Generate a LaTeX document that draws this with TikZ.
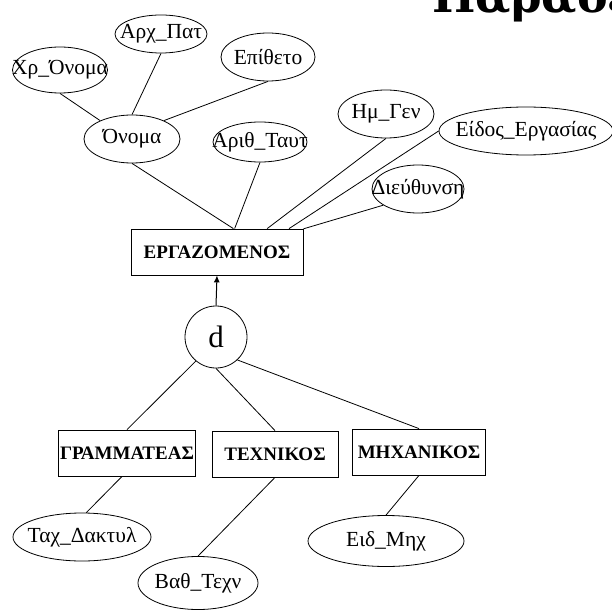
\documentclass[tikz,border=0pt]{standalone}
\usepackage{fontspec}
\setmainfont{Liberation Serif}
\newfontfamily\titlefont{DejaVu Serif}
\usepackage{tikz}
\usetikzlibrary{arrows.meta,shapes.geometric}

\newcommand{\nowidth}[1]{\makebox[0pt]{#1}}

\begin{document}
\begin{tikzpicture}[
  x=1pt, y=-1pt,
  >={Latex[length=7pt,width=6pt]},
  line width=0.8pt,
  attr/.style={draw, ellipse, inner sep=0pt, fill=white,
               font=\fontsize{21.5}{23}\selectfont},
  entity/.style={draw, rectangle, inner sep=0pt, minimum height=46pt,
                 font=\fontsize{19}{21}\selectfont\bfseries},
  link/.style={draw, line width=0.8pt},
  disj/.style={draw, circle, inner sep=0pt, minimum size=62pt,
               font=\fontsize{31}{33}\selectfont}
]
\useasboundingbox (0,0) rectangle (611,612);

% ---- Title (cut off by the frame) ----
\begin{scope}
  \clip (0,0) rectangle (611,612);
  \node[anchor=base west, inner sep=0pt,
        font=\titlefont\bfseries\fontsize{46}{50}\selectfont]
    (title) at (432,13) {Παράδειγμα};
\end{scope}

% ---- Attributes of the superclass ----
\node[attr, minimum width=95pt, minimum height=46pt] (xronoma) at (60,70) {\nowidth{Χρ\_Όνομα}};
\node[attr, minimum width=92pt, minimum height=38pt] (arxpat) at (161,34) {\nowidth{Αρχ\_Πατ}};
\node[attr, minimum width=94pt, minimum height=48pt] (epitheto) at (268,57) {\nowidth{Επίθετο}};
\node[attr, minimum width=96pt, minimum height=48pt] (onoma) at (132,139) {\nowidth{Όνομα}};
\node[attr, minimum width=94pt, minimum height=40pt] (arithtaut) at (260,142) {\nowidth{Αριθ\_Ταυτ}};
\node[attr, minimum width=96pt, minimum height=48pt] (hmgen) at (386,114) {\nowidth{Ημ\_Γεν}};
\node[attr, minimum width=174pt, minimum height=48pt] (eidos) at (526,131) {\nowidth{Είδος\_Εργασίας}};
\node[attr, minimum width=92pt, minimum height=48pt] (dieuth) at (418,189) {\nowidth{Διεύθυνση}};

% ---- Superclass and disjointness ----
\node[entity, minimum width=172pt] (ergaz) at (217,252) {ΕΡΓΑΖΟΜΕΝΟΣ};
\node[disj] (d) at (216,337) {d};

% ---- Subclasses ----
\node[entity, minimum width=137pt] (gram) at (127,453) {ΓΡΑΜΜΑΤΕΑΣ};
\node[entity, minimum width=126pt] (tech) at (275,454) {ΤΕΧΝΙΚΟΣ};
\node[entity, minimum width=133pt] (mech) at (419,452) {ΜΗΧΑΝΙΚΟΣ};

% ---- Attributes of the subclasses ----
\node[attr, minimum width=138pt, minimum height=48pt] (taxdakt) at (82,537) {\nowidth{Ταχ\_Δακτυλ}};
\node[attr, minimum width=120pt, minimum height=53pt] (vathtexn) at (198,583) {\nowidth{Βαθ\_Τεχν}};
\node[attr, minimum width=156pt, minimum height=51pt] (eidmhx) at (386,541) {\nowidth{Ειδ\_Μηχ}};

% ---- Connectors ----
\draw[link] (xronoma.south) -- (onoma.150);
\draw[link] (arxpat.south) -- (onoma.north);
\draw[link] (epitheto.south) -- (onoma.30);
\draw[link] (onoma.south) -- (ergaz.55);
\draw[link] (arithtaut.south) -- (ergaz.53);
\draw[link] (hmgen.south) -- (ergaz.25);
\draw[link] (eidos.west) -- (ergaz.18);
\draw[link] (dieuth.205) -- (ergaz.15.5);

\draw[->, line width=1pt] (d.north) -- (ergaz.south);

\draw[link] (d.230) -- (gram.north);
\draw[link] (d.south) -- (tech.north);
\draw[link] (d.313) -- (mech.north);

\draw[link] (gram.258) -- (taxdakt.80);
\draw[link] (tech.south) -- (vathtexn.north);
\draw[link] (mech.south) -- (eidmhx.north);

\end{tikzpicture}
\end{document}
